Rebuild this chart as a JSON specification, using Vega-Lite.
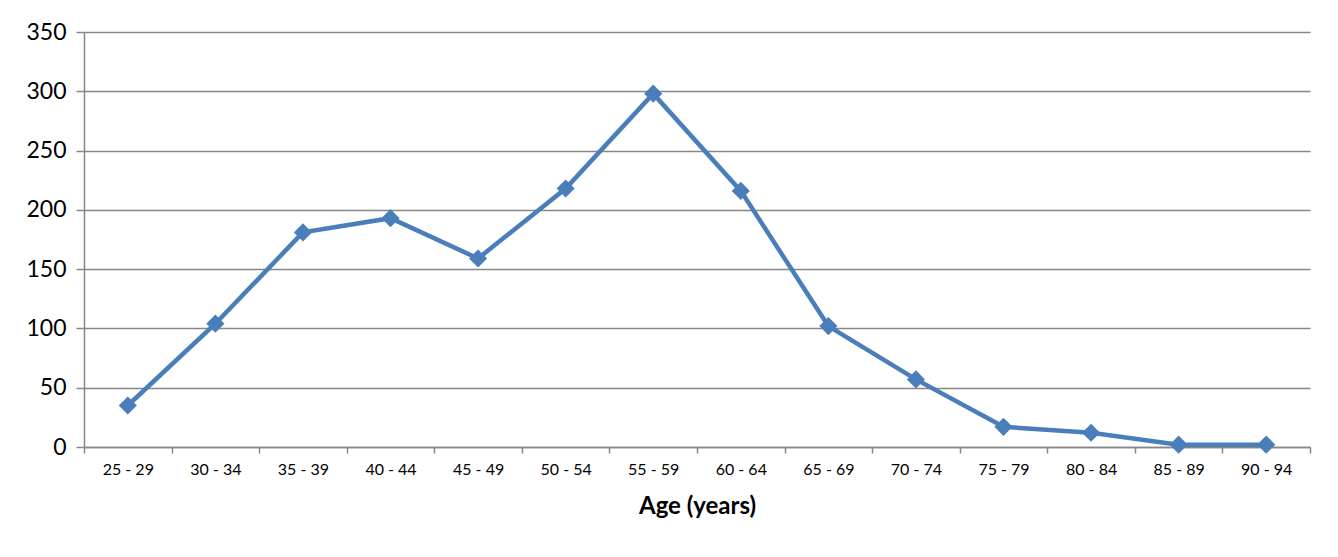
{
  "$schema": "https://vega.github.io/schema/vega-lite/v6.json",
  "width": 1226,
  "height": 415,
  "autosize": "none",
  "padding": {"left": 84, "top": 32, "right": 28, "bottom": 110},
  "background": "white",
  "config": {"view": {"stroke": null}, "font": "Lato"},
  "data": {"values": [
    {"age": "25 - 29", "count": 35},
    {"age": "30 - 34", "count": 104},
    {"age": "35 - 39", "count": 181},
    {"age": "40 - 44", "count": 193},
    {"age": "45 - 49", "count": 159},
    {"age": "50 - 54", "count": 218},
    {"age": "55 - 59", "count": 298},
    {"age": "60 - 64", "count": 216},
    {"age": "65 - 69", "count": 102},
    {"age": "70 - 74", "count": 57},
    {"age": "75 - 79", "count": 17},
    {"age": "80 - 84", "count": 12},
    {"age": "85 - 89", "count": 2},
    {"age": "90 - 94", "count": 2}
  ]},
  "encoding": {
    "x": {
      "field": "age", "type": "ordinal", "sort": null,
      "scale": {"paddingInner": 0, "paddingOuter": 0},
      "axis": {
        "title": "Age (years)", "titleFont": "Lato", "titleFontSize": 24, "titleFontWeight": "bold",
        "titleColor": "black", "titlePadding": 17,
        "labelAngle": 0, "labelFont": "Lato", "labelFontSize": 16, "labelColor": "black", "labelPadding": 8,
        "tickBand": "extent", "tickSize": 6, "tickColor": "#878787", "domainColor": "#878787",
        "tickWidth": 1.5, "domainWidth": 1.5
      }
    },
    "y": {
      "field": "count", "type": "quantitative",
      "scale": {"domain": [0, 350], "nice": false},
      "axis": {
        "title": null, "values": [0, 50, 100, 150, 200, 250, 300, 350],
        "labelFont": "Lato", "labelFontSize": 23, "labelColor": "black", "labelPadding": 10,
        "tickSize": 8, "tickColor": "#878787", "tickWidth": 1.5,
        "domainColor": "#878787", "domainWidth": 1.5,
        "grid": true, "gridColor": "#878787", "gridWidth": 1.5
      }
    }
  },
  "layer": [
    {"mark": {"type": "line", "color": "#4a7ebb", "strokeWidth": 4.5}},
    {"mark": {"type": "point", "shape": "square", "angle": 45, "filled": true, "color": "#4a7ebb", "opacity": 1, "size": 165}}
  ]
}
